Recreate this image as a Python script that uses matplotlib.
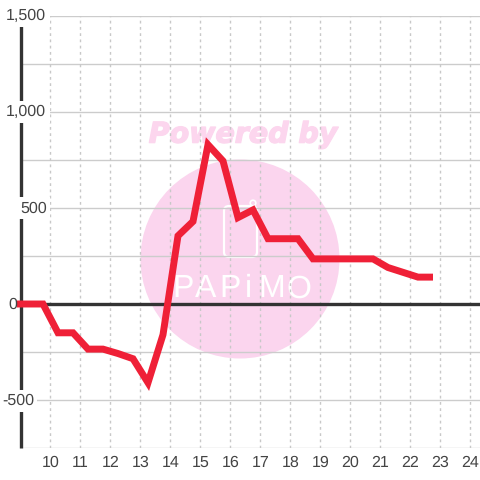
import matplotlib
matplotlib.use("Agg")
import matplotlib.pyplot as plt
import matplotlib.patheffects as pe
from matplotlib.patches import Circle, FancyBboxPatch
from matplotlib.transforms import offset_copy

hours = [8.88, 9.25, 9.75, 10.25, 10.75, 11.25, 11.75, 12.25, 12.75, 13.25, 13.75, 14.25, 14.75,
         15.25, 15.75, 16.25, 16.75, 17.25, 17.75, 18.25, 18.75, 19.25, 19.75, 20.25, 20.75,
         21.25, 21.75, 22.25, 22.75]
values = [0, 0, 0, -150, -150, -235, -235, -258, -285, -410, -160, 355, 430,
          830, 745, 450, 490, 340, 340, 340, 235, 235, 235, 235, 235,
          190, 165, 140, 140]
x_ticks = list(range(10, 25))
y_ticks = [-500, 0, 500, 1000, 1500]
y_labels = ["-500", "0", "500", "1,000", "1,500"]
y_label_left_px = [2, 8, 20, 6, 6]
minor_y = [-750, -250, 250, 750, 1250]

plt.rcParams['font.family'] = ['Liberation Sans', 'DejaVu Sans']
plt.rcParams['text.hinting'] = 'no_hinting'
plt.rcParams['text.hinting_factor'] = 1
W = 480
fig = plt.figure(figsize=(4.8, 4.8), dpi=100)
ax = fig.add_axes([20.5/W, 32/W, 459.5/W, 432/W])
ax.set_xlim(9, 24.317)
ax.set_ylim(-750, 1500)
ax.axis('off')

# watermark (pixel coordinates, top-left origin)
px = fig.add_axes([0, 0, 1, 1], zorder=-1)
px.set_xlim(0, W); px.set_ylim(W, 0); px.axis('off')
px.add_patch(Circle((240, 259), 99.5, fc='#fbd5ee', ec='none'))
px.add_patch(FancyBboxPatch((224, 206), 33, 51, boxstyle='round,pad=0,rounding_size=5', fc='none', ec='white', lw=1.6))
px.add_patch(Circle((253, 203), 2.8, fc='none', ec='white', lw=1.2))
px.text(241.5, 135, 'Powered by', ha='center', va='center', fontsize=20.5, fontweight='bold', style='italic',
        color='#fcd6ee', family='DejaVu Sans',
        path_effects=[pe.withStroke(linewidth=1.0, foreground='#fcd6ee')])
for ch, x in zip('PAPiMO', [183, 206, 230, 248, 272, 299]):
    px.text(x, 289, ch, ha='center', va='center', fontsize=23, color='white', family='Liberation Sans')

for v in y_ticks + minor_y:
    ax.axhline(v, color='#cccccc', lw=1, zorder=1)
for x in x_ticks:
    ax.axvline(x, color='#c8c8c8', lw=1, ls=(0, (2, 2.5)), zorder=1)

ax.plot([9, 9], [-750, 1500], color='#333333', lw=2.4, zorder=2, solid_capstyle='butt', clip_on=False)
ax.axhline(0, color='#333333', lw=2.4, zorder=3)
ax.plot(hours, values, color='#ef2037', lw=5, solid_joinstyle='miter', solid_capstyle='butt', zorder=4, clip_on=False)

for x in x_ticks:
    ax.text(x, -750, str(x), ha='center', va='top', fontsize=11.3, color='#444444',
            transform=offset_copy(ax.transData, fig=fig, x=0, y=-5, units='points'))
lab_ax = fig.add_axes([0, 0, 1, 1], zorder=5)
lab_ax.set_xlim(0, W); lab_ax.set_ylim(W, 0); lab_ax.axis('off')
for v, lab, left in zip(y_ticks, y_labels, y_label_left_px):
    lab_ax.text(left, 304.5 - v * 96.2 / 500, lab, ha='left', va='center', fontsize=11.3, color='#444444',
                bbox=dict(fc='white', ec='none', pad=2.5) if lab != '0' else None)

fig.patch.set_facecolor('white')
ax.patch.set_alpha(0)
fig.savefig('out.png', dpi=100)
